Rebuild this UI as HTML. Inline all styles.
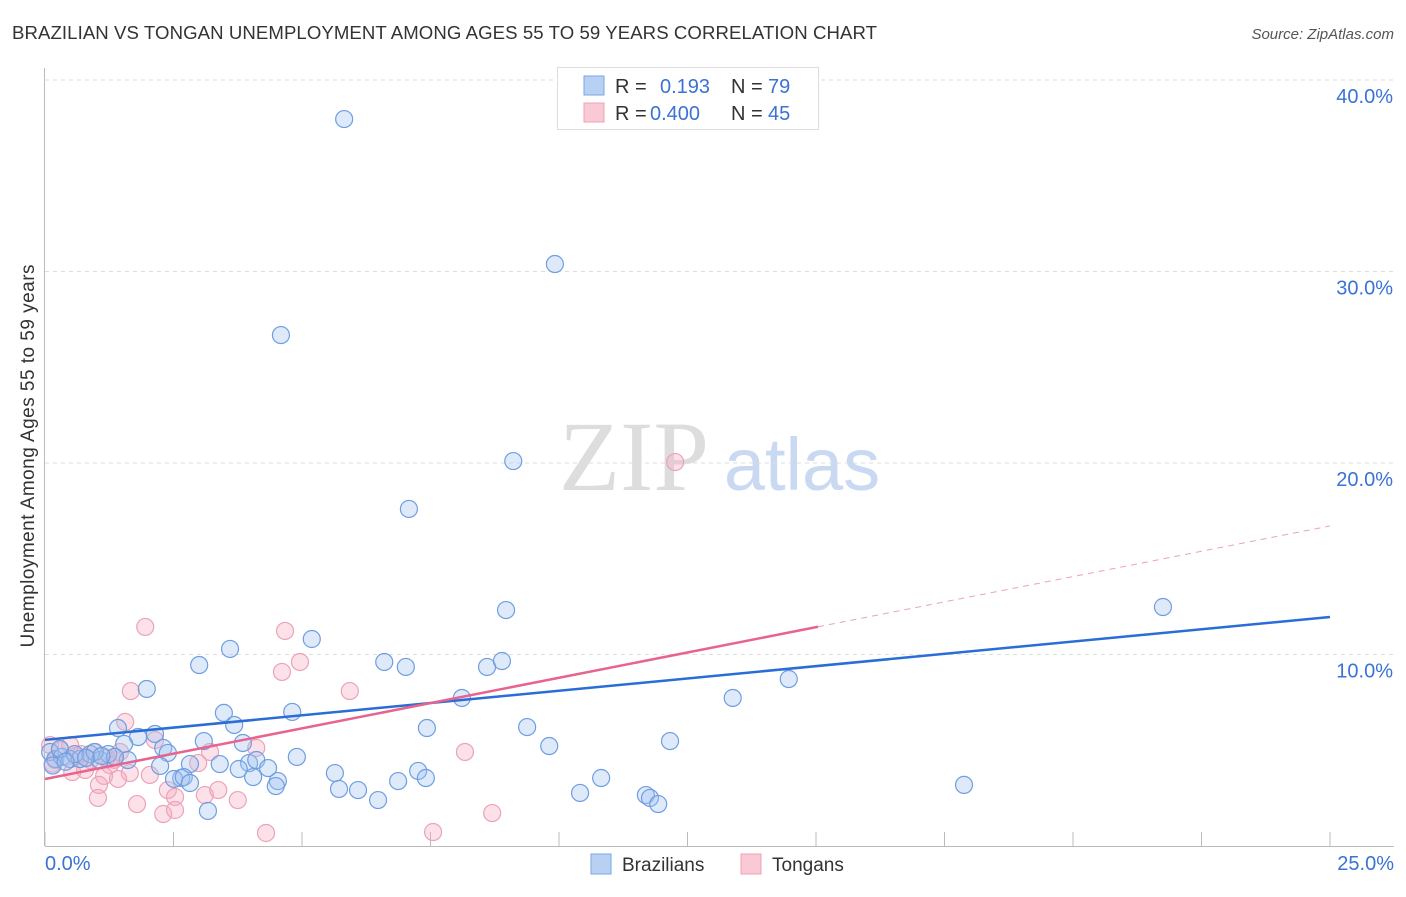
<!DOCTYPE html>
<html><head><meta charset="utf-8"><style>
body{margin:0;background:#fff;font-family:"Liberation Sans",sans-serif;}
svg text{font-family:"Liberation Sans",sans-serif;}
</style></head><body>
<svg id="c" width="1406" height="892" xmlns="http://www.w3.org/2000/svg">
<text x="12" y="39" font-size="18.6" fill="#333" textLength="865">BRAZILIAN VS TONGAN UNEMPLOYMENT AMONG AGES 55 TO 59 YEARS CORRELATION CHART</text>
<text x="1394" y="39" font-size="15" fill="#555" font-style="italic" text-anchor="end">Source: ZipAtlas.com</text>
<text x="34" y="456" font-size="19" fill="#333" text-anchor="middle" textLength="383" transform="rotate(-90 34 456)">Unemployment Among Ages 55 to 59 years</text>
<g>
<text x="634" y="490" font-size="100" fill="#ddd" text-anchor="middle" style="font-family:'Liberation Serif',serif">ZIP</text>
<text x="802" y="490" font-size="74" fill="#c9d9f2" text-anchor="middle">atlas</text>
</g>
<g id="grid"></g><g id="axes"></g><g id="pts"></g><g id="lines"></g>
<g>
<rect x="557.5" y="67.5" width="261" height="62" fill="#fff" stroke="#ddd"/>
<rect x="584" y="76" width="20" height="19" fill="#b8d1f3" stroke="#7aa6e6"/>
<rect x="584" y="103" width="20" height="19" fill="#f9c9d6" stroke="#eba3b8"/>
<text x="615" y="93" font-size="20" fill="#333">R = </text><text x="660" y="93" font-size="20" fill="#3a72d6">0.193</text>
<text x="731" y="93" font-size="20" fill="#333">N = </text><text x="768" y="93" font-size="20" fill="#3a72d6">79</text>
<text x="615" y="120" font-size="20" fill="#333">R = </text><text x="650" y="120" font-size="20" fill="#3a72d6">0.400</text>
<text x="731" y="120" font-size="20" fill="#333">N = </text><text x="768" y="120" font-size="20" fill="#3a72d6">45</text>
</g>
<g>
<rect x="591" y="854" width="20" height="20" fill="#b8d1f3" stroke="#7aa6e6"/>
<text x="622" y="871" font-size="19" fill="#333">Brazilians</text>
<rect x="741" y="854" width="20" height="20" fill="#f9c9d6" stroke="#eba3b8"/>
<text x="772" y="871" font-size="19" fill="#333">Tongans</text>
</g>
</svg>
<script>
const yTicks=[10,20,30,40];
const yTickLabels=["10.0%","20.0%","30.0%","40.0%"];
const xTickVals=[0,2.5,5,7.5,10,12.5,15,17.5,20,22.5,25];
const xEndLabels=["0.0%","25.0%"];
const brazX=[5.82,9.92,4.59,9.11,7.08,21.75,8.97,5.19,3.60,3.00,6.60,7.02,8.60,8.89,1.98,14.47,13.38,8.11,3.48,4.81,3.68,7.43,9.38,1.42,2.14,1.81,3.09,9.81,12.16,3.85,2.30,1.54,4.90,2.39,2.24,1.61,2.82,3.40,3.97,4.11,4.34,3.77,5.64,7.26,6.87,7.41,10.82,2.65,2.51,2.70,4.53,4.49,4.05,2.82,5.72,6.09,6.48,10.41,11.69,11.77,11.93,17.88,3.17,0.1,0.2,0.33,0.49,0.68,0.88,1.07,1.23,1.36,0.29,0.58,0.97,0.15,0.4,0.8,1.1];
const brazY=[37.96,30.39,26.68,20.10,17.60,12.48,12.32,10.81,10.29,9.45,9.61,9.35,9.35,9.66,8.20,8.72,7.73,7.73,6.95,7.00,6.32,6.16,6.21,6.16,5.85,5.69,5.48,5.22,5.48,5.38,5.12,5.33,4.65,4.86,4.18,4.49,4.28,4.28,4.33,4.49,4.07,4.02,3.81,3.92,3.39,3.55,3.55,3.55,3.50,3.60,3.39,3.13,3.60,3.29,2.98,2.92,2.40,2.77,2.66,2.51,2.19,3.19,1.83,4.91,4.54,4.65,4.54,4.54,4.80,4.49,4.80,4.65,5.07,4.80,4.91,4.2,4.4,4.6,4.7];
const tongX=[12.26,1.95,4.67,4.96,4.61,1.67,5.93,1.56,8.17,4.11,3.21,2.14,1.46,0.49,0.88,1.26,0.53,0.78,1.65,2.04,1.15,1.42,2.98,2.39,2.53,3.11,3.37,1.05,1.03,3.75,1.79,2.30,2.53,4.30,7.55,8.70,0.1,0.2,0.3,0.6,0.95,1.2,0.15,0.7,1.35];
const tongY=[20.05,11.44,11.23,9.61,9.09,8.09,8.09,6.48,4.91,5.12,4.91,5.53,4.91,5.27,4.49,4.23,3.86,3.97,3.81,3.71,3.66,3.50,4.33,2.92,2.56,2.66,2.92,3.19,2.51,2.40,2.19,1.67,1.88,0.68,0.73,1.72,5.27,4.49,5.0,4.7,4.9,4.6,4.3,4.8,4.5];
const brazTrend=[5.54,11.96];
const tongTrend=[3.50,16.71];
const tongSolidEnd=15.04;

const X=v=>45+v/25*1285;
const Y=v=>846-v*19.15;
const NS="http://www.w3.org/2000/svg";
function mk(parent,tag,attrs){const e=document.createElementNS(NS,tag);for(const k in attrs)e.setAttribute(k,attrs[k]);document.getElementById(parent).appendChild(e);return e;}

yTicks.forEach((t,i)=>{
 const l=mk('grid','line',{x1:45,x2:1394,y1:Y(t),y2:Y(t),stroke:'#ddd','stroke-dasharray':'4,4'});
 
 
 const tx=mk('grid','text',{x:1393,y:Y(t)+23,'font-size':20,fill:'#3a72d6','text-anchor':'end'});
 tx.textContent=yTickLabels[i];
 
 
});
mk('axes','line',{x1:44.5,x2:44.5,y1:68,y2:846,stroke:'#bbb'});
const xa=mk('axes','line',{x1:45,x2:1394,y1:846.5,y2:846.5,stroke:'#bbb'});


xTickVals.forEach(t=>{
 const l=mk('axes','line',{x1:X(t),x2:X(t),y1:832,y2:846,stroke:'#bbb'});
 
 
});
const x0=mk('axes','text',{x:45,y:870,'font-size':20,fill:'#3a72d6'});x0.textContent=xEndLabels[0];


const x1=mk('axes','text',{x:1394,y:870,'font-size':20,fill:'#3a72d6','text-anchor':'end'});x1.textContent=xEndLabels[1];



tongX.forEach((v,i)=>{
 const c=mk('pts','circle',{cx:X(v),cy:Y(tongY[i]),r:8.5,fill:'rgba(246,170,192,0.35)',stroke:'#eba3b8','stroke-width':1.2});
 
 
});
brazX.forEach((v,i)=>{
 const c=mk('pts','circle',{cx:X(v),cy:Y(brazY[i]),r:8.5,fill:'rgba(160,195,240,0.35)',stroke:'#6f9ee0','stroke-width':1.2});
 
 
});
const bl=mk('lines','line',{x1:X(0),y1:Y(brazTrend[0]),x2:X(25),y2:Y(brazTrend[1]),stroke:'#2a6dd6','stroke-width':2.5});


const ty=x=>tongTrend[0]+(tongTrend[1]-tongTrend[0])*x/25;
const pl=mk('lines','line',{x1:X(0),y1:Y(ty(0)),x2:X(tongSolidEnd),y2:Y(ty(tongSolidEnd)),stroke:'#e8638e','stroke-width':2.5});


const pd=mk('lines','line',{x1:X(tongSolidEnd),y1:Y(ty(tongSolidEnd)),x2:X(25),y2:Y(ty(25)),stroke:'#eba3b8','stroke-width':1,'stroke-dasharray':'6,5'});


</script>
</body></html>
